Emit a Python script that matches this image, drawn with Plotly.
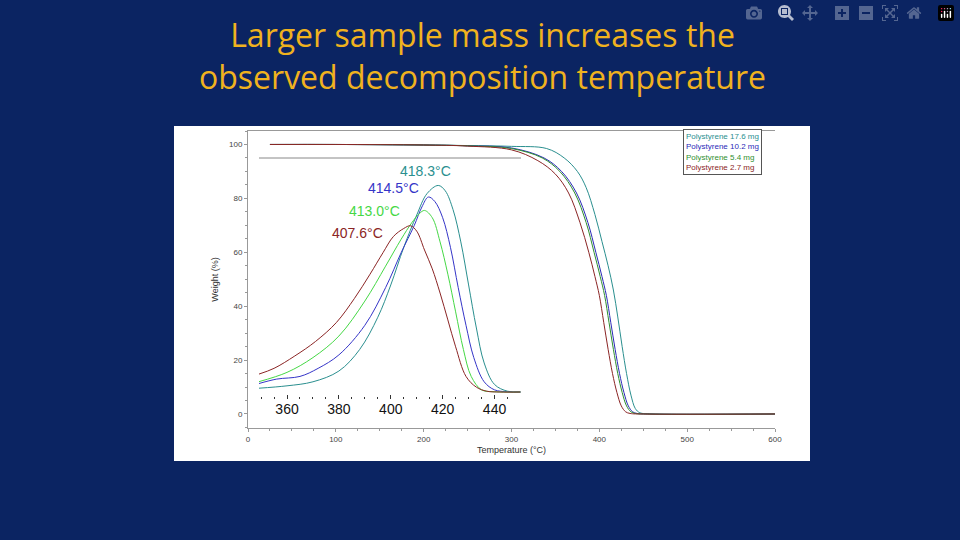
import plotly.graph_objects as go

# ---------- data ----------
tga_names = ["Polystyrene 17.6 mg", "Polystyrene 10.2 mg", "Polystyrene 5.4 mg", "Polystyrene 2.7 mg"]
tga_colors = ["#2a8f8f", "#2b2bb8", "#2f8f2f", "#8b2525"]
dtg_colors = ["#2a8f8f", "#3535c8", "#45d845", "#8b2525"]

tga_teal_t = [25, 100, 200, 250, 300, 340, 360, 375, 385, 395, 403, 410, 416, 421, 426, 431, 436, 441, 446, 460, 600]
tga_teal_w = [100, 100, 99.8, 99.6, 99.3, 98.5, 95, 90, 84, 74, 64, 55, 46, 36, 25, 15, 7, 2, 0.5, 0, 0]
tga_blue_t = [25, 100, 200, 250, 300, 337, 357, 374, 387, 396, 403, 408, 413, 418, 423, 428, 433, 438, 443, 457, 600]
tga_blue_w = [100, 100, 99.8, 99.5, 98.7, 95, 90, 82, 71, 60, 51, 44, 34, 24, 15, 8, 3, 0.8, 0.2, 0, 0]
tga_green_t = [25, 100, 200, 250, 300, 335, 355, 372, 385, 394, 401, 406, 411, 416, 421, 426, 431, 436, 441, 455, 600]
tga_green_w = [100, 100, 99.8, 99.5, 98.5, 95, 90, 82, 71, 60, 51, 44, 34, 24, 15, 8, 3, 0.8, 0.2, 0, 0]
tga_brown_t = [25, 100, 200, 250, 300, 330, 350, 365, 378, 388, 395, 400, 405, 410, 415, 420, 425, 430, 435, 450, 600]
tga_brown_w = [100, 100, 99.8, 99.4, 98, 94, 89, 82, 71, 60, 51, 44, 34, 24, 15, 8, 3, 0.8, 0.2, 0, 0]

dtg_teal_t = [349, 360, 370, 380, 388, 395, 400, 405, 410, 414, 418.3, 421, 424, 427, 430, 433, 436, 440, 445, 450]
dtg_teal_v = [9.6, 10.5, 12, 16, 24, 36, 48, 62, 74, 82, 85, 83, 76, 64, 48, 32, 19, 11, 8.5, 8.2]
dtg_blue_t = [349, 356, 365, 372, 380, 390, 398, 404, 409, 412, 414.5, 417, 420, 423, 426, 429, 432, 436, 440, 445, 450]
dtg_blue_v = [11.3, 13, 14, 17, 22, 33, 47, 60, 70, 77, 80.7, 79, 73, 62, 47, 33, 21, 12, 9, 8.3, 8.2]
dtg_green_t = [349, 360, 370, 380, 390, 398, 404, 408, 411, 413, 416, 419, 422, 425, 428, 431, 435, 440, 450]
dtg_green_v = [12, 15.5, 21, 29, 42, 55, 65, 71, 74.5, 75.7, 73, 64, 52, 38, 24, 14, 9, 8.3, 8.2]
dtg_brown_t = [349, 355, 363, 371, 379, 386, 392, 397, 401, 405, 407.6, 410, 413, 416, 419, 422, 425, 429, 433, 437, 442, 450]
dtg_brown_v = [14.8, 17, 21.6, 27, 34, 43, 52, 60, 66, 69, 70, 68, 61, 54, 45, 35, 25, 14, 10, 8.5, 8.2, 8.2]

peak_labels = ["418.3°C", "414.5°C", "413.0°C", "407.6°C"]
peak_label_t = [413.4, 400.9, 393.9, 387.3]
peak_label_v = [90.3, 83.9, 75.5, 67.4]

# ---------- geometry helpers (pixel -> paper) ----------
L, R, T, B = 248, 775, 131, 428
def px(x): return (x - L) / (R - L)
def py(y): return (B - y) / (B - T)

fig = go.Figure()

tga = [(tga_teal_t, tga_teal_w), (tga_blue_t, tga_blue_w), (tga_green_t, tga_green_w), (tga_brown_t, tga_brown_w)]
for (t, w), c, n in zip(tga, tga_colors, tga_names):
    fig.add_trace(go.Scatter(x=t, y=w, mode="lines", name=n, line=dict(color=c, width=1, shape="spline"),
                             showlegend=False))

dtg = [(dtg_teal_t, dtg_teal_v), (dtg_blue_t, dtg_blue_v), (dtg_green_t, dtg_green_v), (dtg_brown_t, dtg_brown_v)]
for (t, v), c in zip(dtg, dtg_colors):
    fig.add_trace(go.Scatter(x=t, y=v, mode="lines", line=dict(color=c, width=1, shape="spline"),
                             xaxis="x2", yaxis="y2", showlegend=False))

for lab, t, v, c in zip(peak_labels, peak_label_t, peak_label_v, dtg_colors):
    fig.add_annotation(x=t, y=v, xref="x2", yref="y2", text=lab, showarrow=False,
                       font=dict(size=14, color=c, family="Liberation Sans"))

# white picture background + inset top line
fig.add_shape(type="rect", xref="paper", yref="paper", x0=px(174), x1=px(810), y0=py(461), y1=py(126),
              fillcolor="white", line=dict(width=0), layer="below")
fig.add_shape(type="line", xref="paper", yref="paper", x0=px(259), x1=px(521), y0=py(158), y1=py(158),
              line=dict(color="#888", width=1))

# legend box
leg = "<br>".join(f"<span style='color:{c}'>{n}</span>" for n, c in zip(tga_names, tga_colors))
fig.add_annotation(xref="paper", yref="paper", x=px(683), y=py(129), xanchor="left", yanchor="top",
                   text=leg, showarrow=False, align="left", bordercolor="#555", borderwidth=1,
                   borderpad=2, bgcolor="white", font=dict(size=8, family="Liberation Sans"))

# title
fig.add_annotation(xref="paper", yref="paper", x=px(482), y=py(56), xanchor="center", yanchor="middle",
                   text="Larger sample mass increases the<br>observed decomposition temperature",
                   showarrow=False, font=dict(size=32, color="#f0b21e", family="Open Sans"))

fig.update_layout(
    width=960, height=540,
    paper_bgcolor="#0b2462", plot_bgcolor="rgba(0,0,0,0)",
    margin=dict(l=L, r=960 - R, t=T, b=540 - B),
    font=dict(family="Liberation Sans", size=8, color="#444"),
    xaxis=dict(range=[0, 600], dtick=100, showgrid=False, zeroline=False, showline=True, mirror=True,
               linecolor="#999", ticks="outside", ticklen=3, tickcolor="#999",
               minor=dict(dtick=25, ticks="outside", ticklen=2, tickcolor="#999"),
               title=dict(text="Temperature (°C)", font=dict(size=9, color="#333"), standoff=4)),
    yaxis=dict(range=[-5.2, 105], dtick=20, showgrid=False, zeroline=False, showline=True,
               linecolor="#999", ticks="outside", ticklen=3, tickcolor="#999",
               minor=dict(dtick=5, ticks="outside", ticklen=2, tickcolor="#999"),
               title=dict(text="Weight (%)", font=dict(size=9, color="#333"), standoff=8)),
    xaxis2=dict(domain=[px(259), px(521)], anchor="y2", range=[349.2, 450.2], dtick=20, tick0=360,
                showgrid=False, zeroline=False, showline=False, ticks="inside", ticklen=4, tickcolor="#333",
                minor=dict(dtick=5, ticks="inside", ticklen=2, tickcolor="#333"),
                tickfont=dict(size=14, color="#111")),
    yaxis2=dict(domain=[py(399), py(158)], anchor="x2", range=[5.6, 95.2], visible=False),
)

fig.write_html("out.html", post_script="document.body.style.margin='0';document.body.style.overflow='hidden';")
